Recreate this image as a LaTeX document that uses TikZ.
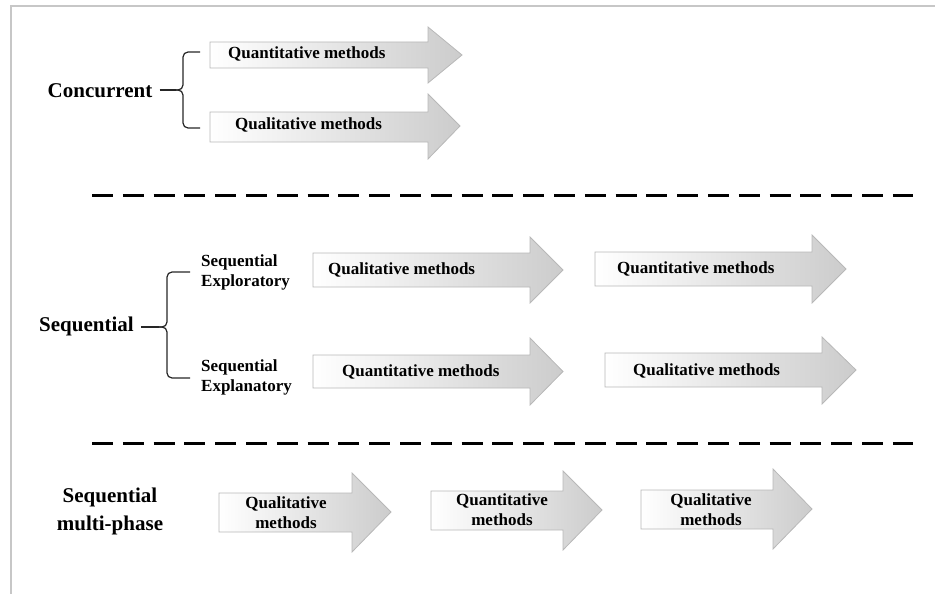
\documentclass[tikz,border=0pt]{standalone}
\usepackage{fontspec}
\setmainfont{Liberation Serif}
\usetikzlibrary{positioning}

\tikzset{
  arrowbox/.style={draw=black!28, line width=0.8pt, left color=white, right color=black!20},
  mtext/.style={inner sep=0pt, font=\fontsize{17}{20}\selectfont\bfseries},
  bigtext/.style={inner sep=0pt, font=\fontsize{21}{28}\selectfont\bfseries},
  bracket/.style={line width=1.2pt, black!85, rounded corners=5pt},
  divider/.style={line width=3pt, dash pattern=on 21pt off 9.8pt},
  frame/.style={line width=1.5pt, black!22}
}

\begin{document}
\begin{tikzpicture}[x=1pt, y=-1pt]

    \useasboundingbox (0,0) rectangle (935,594);

    % Frame
    \draw[frame] (10,6) -- (935,6);
    \draw[frame] (11,6) -- (11,594);

    % Concurrent
    \node[bigtext] (conc) at (100,91) {Concurrent};
    \coordinate (c1mid) at (176,90);
    \draw[bracket] (200,52) -- (183,52) -- (183,90) -- (c1mid);
    \draw[bracket] (200,128) -- (183,128) -- (183,90) -- (c1mid);
    \draw[bracket] ([xshift=7pt]conc.east |- c1mid) -- (c1mid);

    \draw[arrowbox] (210,42) -- (428,42) -- (428,27) -- (462,55) -- (428,83) -- (428,68) -- (210,68) -- cycle;
    \node[mtext, anchor=west] (qn1) at (228,54) {Quantitative methods};

    \draw[arrowbox] (210,112) -- (428,112) -- (428,94) -- (460,126) -- (428,159) -- (428,142) -- (210,142) -- cycle;
    \node[mtext, anchor=west] (ql1) at (235,125) {Qualitative methods};

    % Divider 1
    \draw[divider] (92,195.5) -- (913,195.5);

    % Sequential
    \node[bigtext] (seq) at (86.5,326) {Sequential};
    \coordinate (c2mid) at (159,327);
    \draw[bracket] (190,272) -- (167,272) -- (167,327) -- (c2mid);
    \draw[bracket] (190,378) -- (167,378) -- (167,327) -- (c2mid);
    \draw[bracket] ([xshift=7pt]seq.east |- c2mid) -- (c2mid);

    \node[mtext, anchor=west, align=left] (expl) at (201,272) {Sequential\\Exploratory};
    \node[mtext, anchor=west, align=left] (expn) at (201,377.5) {Sequential\\Explanatory};

    % Exploratory arrows
    \draw[arrowbox] (313,253) -- (530,253) -- (530,237) -- (563,270) -- (530,303) -- (530,287) -- (313,287) -- cycle;
    \node[mtext, anchor=west] (ql2) at (328,270) {Qualitative methods};
    \draw[arrowbox] (595,252) -- (812,252) -- (812,235) -- (846,269) -- (812,303) -- (812,286) -- (595,286) -- cycle;
    \node[mtext, anchor=west] (qn2) at (617,269) {Quantitative methods};

    % Explanatory arrows
    \draw[arrowbox] (313,355) -- (530,355) -- (530,338) -- (563,371.5) -- (530,405) -- (530,388) -- (313,388) -- cycle;
    \node[mtext, anchor=west] (qn3) at (342,372) {Quantitative methods};
    \draw[arrowbox] (605,353) -- (822,353) -- (822,337) -- (856,370) -- (822,404) -- (822,387) -- (605,387) -- cycle;
    \node[mtext, anchor=west] (ql3) at (633,371) {Qualitative methods};

    % Divider 2
    \draw[divider] (92,443.5) -- (913,443.5);

    % Sequential multi-phase
    \node[bigtext, align=center] (multi) at (110,511) {Sequential\\multi-phase};

    \draw[arrowbox] (219,493) -- (352,493) -- (352,473) -- (391,512) -- (352,552) -- (352,532) -- (219,532) -- cycle;
    \node[mtext, align=center] (ql4) at (286,513) {Qualitative\\methods};
    \draw[arrowbox] (431,491) -- (563,491) -- (563,471) -- (602,510) -- (563,550) -- (563,530) -- (431,530) -- cycle;
    \node[mtext, align=center] (qn4) at (502,510) {Quantitative\\methods};
    \draw[arrowbox] (641,490) -- (773,490) -- (773,469) -- (812,509) -- (773,549) -- (773,529) -- (641,529) -- cycle;
    \node[mtext, align=center] (ql5) at (711,509.5) {Qualitative\\methods};

\end{tikzpicture}
\end{document}
